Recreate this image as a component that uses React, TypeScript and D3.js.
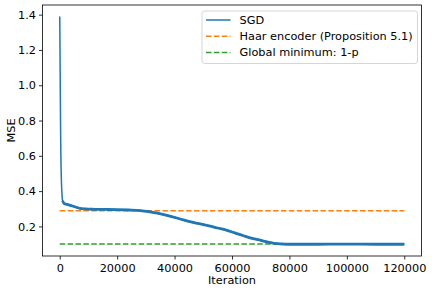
import * as d3 from 'd3';
import { useEffect, useRef } from 'react';

// SGD training curve (iteration, mse)
const sgdIter = [0, 100, 200, 300, 400, 600, 800, 1000, 1500, 2500, 4000, 5500, 7000, 9000, 12000, 16000, 20000, 24000, 28000, 31000, 34000, 38000, 42000, 45000, 49000, 52000, 55000, 58000, 61000, 64000, 67000, 70000, 73000, 76000, 78000, 80000, 90000, 100000, 110000, 120000];
const sgdMse = [1.39, 1.2, 0.95, 0.75, 0.6, 0.45, 0.38, 0.345, 0.33, 0.325, 0.318, 0.31, 0.302, 0.299, 0.297, 0.296, 0.295, 0.293, 0.29, 0.284, 0.275, 0.26, 0.242, 0.228, 0.214, 0.203, 0.191, 0.179, 0.163, 0.147, 0.132, 0.121, 0.11, 0.102, 0.1, 0.099, 0.099, 0.1, 0.099, 0.099];

const haarValue = 0.289;
const globalMin = 0.1;

const xTicks = [0, 20000, 40000, 60000, 80000, 100000, 120000];
const yTicks = [0.2, 0.4, 0.6, 0.8, 1.0, 1.2, 1.4];

const legendLabels = ['SGD', 'Haar encoder (Proposition 5.1)', 'Global minimum: 1-p'];
const colors = ['#1f77b4', '#ff7f0e', '#2ca02c'];

const W = 432;
const H = 292;
const FS = 11.3;

const App = () => {
    const ref = useRef<SVGSVGElement>(null);

    useEffect(() => {
        const svg = d3.select(ref.current);
        svg.selectAll('*').remove();

        const left = 42.5, right = 421.5, top = 5, bottom = 256;

        const x = d3.scaleLinear().domain([-6000, 126000]).range([left, right]);
        const y = d3.scaleLinear().domain([0.0323, 1.4547]).range([bottom, top]);

        const font = '"DejaVu Sans", sans-serif';

        // reference lines
        const hlines = [haarValue, globalMin];
        hlines.forEach((v, i) => {
            svg.append('line')
                .attr('x1', x(0)).attr('x2', x(120000))
                .attr('y1', y(v)).attr('y2', y(v))
                .attr('stroke', colors[i + 1])
                .attr('stroke-width', 1.5)
                .attr('stroke-dasharray', '5.5,2.4');
        });

        // SGD curve
        const pts = sgdIter.map((it, i) => [it, sgdMse[i]] as [number, number]);
        const line = d3.line<[number, number]>().x(d => x(d[0])).y(d => y(d[1])).curve(d3.curveMonotoneX);
        svg.append('path')
            .datum(pts)
            .attr('d', line)
            .attr('fill', 'none')
            .attr('stroke', colors[0])
            .attr('stroke-width', 1.5);
        // thicker noisy band after the initial drop
        svg.append('path')
            .datum(pts.filter(d => d[0] >= 1000))
            .attr('d', line)
            .attr('fill', 'none')
            .attr('stroke', colors[0])
            .attr('stroke-width', 2.8);

        // spines
        svg.append('rect')
            .attr('x', left).attr('y', top)
            .attr('width', right - left).attr('height', bottom - top)
            .attr('fill', 'none').attr('stroke', 'black').attr('stroke-width', 0.8);

        // x axis
        const xa = svg.append('g').attr('transform', `translate(0,${bottom})`)
            .call(d3.axisBottom(x).tickValues(xTicks).tickFormat(d3.format('d')).tickSize(3.5).tickSizeOuter(0));
        xa.select('.domain').remove();
        xa.selectAll('text').attr('font-size', FS).attr('font-family', font).attr('fill', 'black').attr('dy', '0.85em');
        xa.selectAll('line').attr('stroke-width', 0.8);

        // y axis
        const ya = svg.append('g').attr('transform', `translate(${left},0)`)
            .call(d3.axisLeft(y).tickValues(yTicks).tickFormat(d3.format('.1f')).tickSize(3.5).tickSizeOuter(0));
        ya.select('.domain').remove();
        ya.selectAll('text').attr('font-size', FS).attr('font-family', font).attr('fill', 'black');
        ya.selectAll('line').attr('stroke-width', 0.8);

        // axis labels
        svg.append('text')
            .attr('x', (left + right) / 2).attr('y', 284)
            .attr('text-anchor', 'middle')
            .attr('font-size', FS).attr('font-family', font)
            .text('Iteration');
        svg.append('text')
            .attr('transform', `translate(15,${(top + bottom) / 2}) rotate(-90)`)
            .attr('text-anchor', 'middle')
            .attr('font-size', FS).attr('font-family', font)
            .text('MSE');

        // legend
        const lg = svg.append('g');
        lg.append('rect')
            .attr('x', 202).attr('y', 11).attr('width', 215.5).attr('height', 52.5)
            .attr('rx', 2.5)
            .attr('fill', 'white').attr('fill-opacity', 0.8)
            .attr('stroke', '#cccccc').attr('stroke-width', 0.8);
        legendLabels.forEach((lab, i) => {
            const yy = 20 + i * 16.2;
            lg.append('line')
                .attr('x1', 206).attr('x2', 230.5)
                .attr('y1', yy).attr('y2', yy)
                .attr('stroke', colors[i])
                .attr('stroke-width', 1.5)
                .attr('stroke-dasharray', i === 0 ? null : '5.5,2.4');
            lg.append('text')
                .attr('x', 239.5).attr('y', yy + 4)
                .attr('font-size', FS).attr('font-family', font)
                .text(lab);
        });
    }, []);

    return (
        <svg ref={ref} width={W} height={H}
            style={{ position: 'absolute', left: 0, top: 0, background: 'white' }} />
    );
};

export default App;
